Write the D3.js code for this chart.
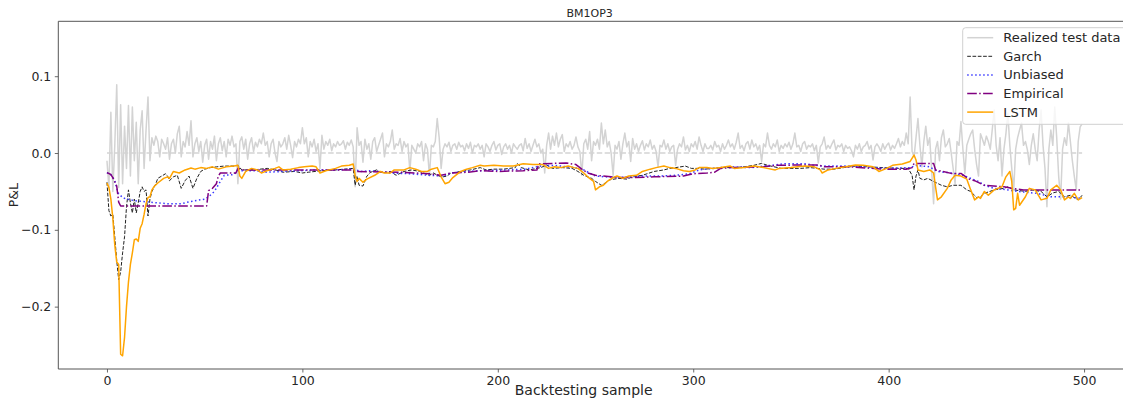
<!DOCTYPE html>
<html>
<head>
<meta charset="utf-8">
<script src="https://cdn.jsdelivr.net/npm/d3@7"></script>
<style>
body{margin:0;background:#fff;}
text{font-family:"DejaVu Sans",sans-serif;fill:#262626;}
</style>
</head>
<body>
<svg id="chart"></svg>
<script>
//backtest p&l, 500 samples
var title="BM1OP3";
var xTicks=[0,100,200,300,400,500];
var yTicks=[0.1,0.0,-0.1,-0.2];
var seriesNames=["Realized test data","Garch","Unbiased","Empirical","LSTM"];

//realized test data, one value per sample
var realized=[
-0.010,-0.045,0.053,-0.050,0.010,0.089,-0.045,0.063,-0.040,0.035,
-0.020,0.062,-0.030,0.060,-0.010,0.040,-0.040,0.030,0.055,-0.020,
0.030,0.073,-0.010,0.020,0.010,0.022,0.015,-0.005,0.018,0.012,
0.005,0.020,-0.008,0.012,0.018,0.000,0.025,0.035,-0.005,0.015,
0.008,0.028,0.010,0.042,-0.005,0.012,0.020,0.002,0.015,-0.012,
0.010,0.018,-0.008,0.015,0.005,0.022,-0.010,0.012,0.020,0.003,
0.015,-0.005,0.018,0.010,0.022,0.008,0.012,-0.040,0.015,0.021,
0.005,0.018,-0.008,0.012,0.020,0.002,0.014,0.008,0.018,0.012,
0.026,0.010,0.015,-0.005,0.012,0.018,0.000,-0.011,0.015,0.008,
0.012,0.020,0.005,0.023,0.010,-0.006,0.015,0.008,0.018,0.012,
0.033,0.012,0.020,-0.005,0.015,0.008,0.018,0.002,0.012,-0.020,
0.023,0.005,0.015,0.010,0.018,0.003,0.012,0.008,0.015,0.010,
0.012,0.016,0.005,0.014,0.010,0.017,0.008,-0.044,0.033,0.010,
0.015,-0.012,0.018,0.005,0.012,-0.008,0.015,0.020,0.002,0.010,
0.018,0.026,-0.005,0.012,0.008,0.015,0.030,0.005,0.012,0.010,
0.019,0.002,0.015,0.008,0.012,-0.024,0.010,0.005,0.000,0.012,
0.008,0.015,-0.010,0.012,0.005,-0.030,0.010,0.008,0.015,0.045,
0.020,-0.020,0.005,0.012,0.008,0.014,0.002,0.010,0.012,0.005,
0.014,0.008,0.010,0.003,0.012,0.006,0.014,0.000,0.010,0.008,
0.012,0.005,0.010,-0.005,0.012,0.008,0.002,0.010,0.015,0.004,
0.010,0.012,-0.002,0.008,0.012,0.005,0.010,0.000,0.012,0.008,
0.005,0.010,0.012,0.003,0.019,0.006,0.012,0.002,0.010,0.018,
0.008,0.012,0.000,0.005,-0.026,0.010,0.026,0.005,0.022,0.010,
0.026,0.008,0.018,0.024,0.002,0.012,0.008,0.015,0.005,0.010,
0.021,0.008,0.002,-0.029,0.012,0.018,0.005,0.028,-0.010,0.015,
0.010,0.018,0.005,0.039,0.012,0.030,0.008,0.015,0.000,-0.029,
0.010,0.005,0.015,-0.008,0.012,0.026,0.008,0.015,-0.011,0.019,
0.005,0.012,0.002,0.010,0.016,0.004,0.012,0.008,0.017,0.005,
0.010,0.002,-0.018,0.010,0.008,0.017,0.005,0.012,0.002,0.008,
0.010,-0.016,0.005,0.012,0.008,0.021,0.004,0.010,0.002,0.012,
0.008,0.015,0.005,0.021,0.010,0.002,0.012,0.006,0.006,0.010,
0.004,0.015,0.008,0.010,0.002,0.012,0.005,0.010,0.017,0.008,
0.012,0.005,0.014,0.026,0.006,0.010,0.003,0.012,0.015,0.005,
0.017,0.008,0.012,0.004,0.010,-0.011,0.012,0.008,0.026,0.010,
0.005,0.012,0.008,0.017,0.002,0.010,0.006,0.012,0.008,0.014,
0.005,0.012,0.026,0.008,0.010,0.002,0.012,0.015,0.005,0.010,
0.008,0.012,0.003,0.010,-0.013,0.008,0.012,0.021,0.005,0.010,
0.006,0.012,0.017,0.004,0.010,0.008,0.012,0.002,0.010,0.006,
0.008,0.003,-0.005,0.010,0.005,0.012,0.002,0.008,0.010,0.015,
0.005,0.010,-0.009,0.008,0.012,0.008,0.002,0.012,0.005,0.010,
0.013,0.004,0.010,0.006,0.012,0.019,0.008,0.015,0.010,0.026,
0.012,0.073,0.002,-0.005,0.020,0.045,0.010,-0.018,0.015,0.035,
0.010,0.020,-0.022,-0.066,0.005,0.015,-0.010,0.020,0.030,0.008,
0.012,0.019,0.000,-0.020,-0.040,0.015,0.010,0.041,0.005,-0.027,
0.010,0.018,0.025,0.030,0.005,-0.015,-0.030,0.025,0.018,0.010,
0.022,0.015,0.005,0.030,0.056,0.010,-0.010,0.020,-0.030,0.005,
0.025,0.052,0.010,-0.020,-0.048,0.005,0.020,0.030,0.039,0.010,
0.015,0.004,-0.015,0.010,0.025,0.005,-0.010,0.030,0.056,0.010,
-0.020,-0.070,0.005,0.030,0.010,0.060,0.020,-0.030,-0.060,0.005,
0.020,0.010,0.039,0.015,-0.010,-0.030,-0.048,0.015,0.034,0.038
];

//forecasts: [sample, p&l] at the corners
var garch=[[0,-0.038],[1,-0.075],[2,-0.082],[3,-0.080],[4,-0.109],[5,-0.140],[6,-0.165],[7,-0.155],[8,-0.130],[9,-0.109],
[10,-0.070],[11,-0.048],[12,-0.065],[13,-0.078],[14,-0.060],[15,-0.078],[16,-0.065],[17,-0.050],[18,-0.044],[19,-0.050],
[20,-0.048],[21,-0.082],[22,-0.060],[23,-0.050],[25,-0.040],[26,-0.033],[28,-0.030],[30,-0.027],[31,-0.030],[32,-0.036],
[34,-0.031],[36,-0.029],[38,-0.046],[40,-0.036],[42,-0.030],[44,-0.046],[46,-0.033],[48,-0.024],[50,-0.021],[53,-0.019],
[56,-0.018],[60,-0.017],[65,-0.017],[67,-0.016],[69,-0.022],[75,-0.022],[82,-0.020],[88,-0.023],[90,-0.025],[96,-0.024],
[100,-0.026],[103,-0.025],[110,-0.023],[117,-0.022],[126,-0.020],[127,-0.042],[128,-0.030],[129,-0.042],[131,-0.043],[133,-0.030],
[135,-0.025],[138,-0.022],[141,-0.026],[145,-0.024],[148,-0.029],[152,-0.024],[156,-0.022],[160,-0.024],[165,-0.029],[167,-0.026],
[170,-0.030],[172,-0.031],[174,-0.030],[176,-0.026],[181,-0.024],[186,-0.022],[191,-0.019],[194,-0.022],[198,-0.021],[203,-0.021],
[209,-0.019],[210,-0.0135],[212,-0.019],[216,-0.022],[222,-0.019],[225,-0.0156],[228,-0.020],[233,-0.019],[238,-0.020],[241,-0.024],
[244,-0.029],[248,-0.033],[250,-0.037],[253,-0.042],[255,-0.039],[257,-0.035],[262,-0.033],[266,-0.034],[269,-0.031],[274,-0.029],
[280,-0.024],[285,-0.022],[288,-0.020],[291,-0.019],[296,-0.017],[299,-0.020],[302,-0.020],[306,-0.021],[310,-0.020],[315,-0.019],
[320,-0.019],[326,-0.018],[331,-0.016],[335,-0.0135],[338,-0.016],[345,-0.020],[355,-0.020],[360,-0.019],[367,-0.021],[372,-0.021],
[377,-0.019],[383,-0.017],[390,-0.018],[397,-0.019],[405,-0.020],[410,-0.020],[412,-0.029],[413,-0.048],[414,-0.030],[415,-0.022],
[416,-0.033],[418,-0.035],[420,-0.033],[423,-0.037],[427,-0.042],[430,-0.044],[433,-0.042],[437,-0.042],[440,-0.048],[442,-0.050],
[445,-0.058],[447,-0.057],[449,-0.0525],[454,-0.048],[459,-0.046],[461,-0.044],[464,-0.048],[470,-0.050],[473,-0.048],[478,-0.050],
[481,-0.057],[484,-0.052],[487,-0.050],[490,-0.057],[493,-0.055],[497,-0.061],[499,-0.055]];

var unbiased=[[0,-0.0256],[2,-0.028],[4,-0.036],[5,-0.046],[6,-0.053],[8,-0.058],[10,-0.060],[14,-0.062],[22,-0.064],[31,-0.066],
[38,-0.066],[43,-0.063],[50,-0.060],[52,-0.057],[55,-0.050],[58,-0.037],[60,-0.029],[65,-0.028],[67,-0.023],[75,-0.023],
[82,-0.025],[90,-0.024],[99,-0.023],[107,-0.022],[117,-0.022],[126,-0.021],[130,-0.024],[135,-0.023],[145,-0.026],[155,-0.027],
[165,-0.029],[172,-0.030],[176,-0.026],[184,-0.024],[191,-0.023],[205,-0.022],[214,-0.021],[222,-0.017],[229,-0.016],[239,-0.019],
[244,-0.022],[247,-0.026],[250,-0.030],[255,-0.031],[262,-0.032],[273,-0.030],[283,-0.030],[291,-0.029],[298,-0.027],[303,-0.022],
[310,-0.020],[318,-0.018],[330,-0.019],[336,-0.017],[347,-0.014],[357,-0.014],[362,-0.016],[367,-0.017],[383,-0.017],[397,-0.020],
[411,-0.019],[414,-0.016],[421,-0.018],[425,-0.024],[432,-0.026],[438,-0.029],[443,-0.034],[446,-0.037],[449,-0.042],[454,-0.046],
[461,-0.048],[466,-0.050],[476,-0.0525],[483,-0.057],[490,-0.057],[499,-0.059]];

var empirical=[[0,-0.0256],[2,-0.028],[3,-0.032],[5,-0.043],[6,-0.064],[7,-0.069],[51,-0.069],[52,-0.049],[54,-0.046],[56,-0.040],
[57,-0.030],[58,-0.026],[66,-0.026],[67,-0.020],[70,-0.022],[126,-0.022],[127,-0.024],[150,-0.025],[158,-0.026],[165,-0.027],
[171,-0.029],[176,-0.026],[185,-0.025],[191,-0.023],[200,-0.024],[213,-0.023],[220,-0.022],[221,-0.014],[235,-0.013],[240,-0.015],
[243,-0.021],[246,-0.026],[250,-0.029],[258,-0.031],[260,-0.032],[270,-0.032],[280,-0.031],[295,-0.030],[300,-0.027],[307,-0.026],
[311,-0.025],[314,-0.020],[320,-0.019],[336,-0.018],[343,-0.016],[354,-0.0156],[364,-0.0156],[367,-0.018],[380,-0.018],[397,-0.021],
[409,-0.021],[412,-0.019],[413,-0.0135],[423,-0.0135],[424,-0.022],[432,-0.0265],[437,-0.0265],[439,-0.030],[440,-0.033],[444,-0.036],
[449,-0.042],[459,-0.044],[463,-0.046],[469,-0.048],[499,-0.048]];

var lstm=[[0,-0.039],[1,-0.045],[2,-0.060],[3,-0.085],[4,-0.120],[5,-0.142],[6,-0.145],[7,-0.262],[8,-0.264],[9,-0.240],
[10,-0.200],[11,-0.168],[12,-0.145],[13,-0.130],[14,-0.113],[15,-0.112],[16,-0.115],[17,-0.098],[18,-0.092],[19,-0.080],
[20,-0.066],[21,-0.058],[22,-0.057],[23,-0.048],[24,-0.044],[26,-0.039],[29,-0.033],[31,-0.031],[32,-0.033],[34,-0.024],
[37,-0.026],[40,-0.022],[43,-0.0195],[45,-0.021],[48,-0.019],[51,-0.020],[54,-0.018],[57,-0.021],[61,-0.018],[65,-0.017],
[67,-0.016],[68,-0.030],[69,-0.033],[71,-0.024],[74,-0.020],[77,-0.022],[79,-0.026],[83,-0.022],[86,-0.020],[88,-0.018],
[90,-0.022],[94,-0.021],[98,-0.019],[101,-0.018],[105,-0.017],[107,-0.018],[109,-0.026],[112,-0.023],[117,-0.020],[120,-0.017],
[124,-0.016],[126,-0.0143],[127,-0.029],[128,-0.037],[129,-0.033],[131,-0.038],[133,-0.034],[137,-0.029],[140,-0.024],[142,-0.026],
[145,-0.026],[147,-0.022],[152,-0.022],[155,-0.019],[158,-0.021],[161,-0.024],[164,-0.024],[166,-0.021],[169,-0.019],[171,-0.031],
[173,-0.040],[175,-0.038],[177,-0.032],[181,-0.024],[184,-0.021],[187,-0.019],[191,-0.016],[193,-0.017],[198,-0.016],[203,-0.017],
[208,-0.017],[213,-0.014],[218,-0.015],[223,-0.015],[226,-0.020],[229,-0.018],[232,-0.019],[236,-0.017],[239,-0.019],[241,-0.020],
[244,-0.026],[246,-0.031],[249,-0.037],[250,-0.048],[252,-0.044],[254,-0.042],[256,-0.037],[259,-0.032],[261,-0.030],[264,-0.033],
[267,-0.030],[271,-0.029],[274,-0.024],[278,-0.021],[281,-0.019],[285,-0.017],[288,-0.019],[291,-0.020],[295,-0.023],[298,-0.024],
[301,-0.022],[303,-0.019],[307,-0.019],[310,-0.020],[314,-0.019],[319,-0.017],[321,-0.020],[326,-0.019],[331,-0.017],[336,-0.019],
[342,-0.022],[344,-0.020],[350,-0.019],[357,-0.017],[362,-0.018],[365,-0.022],[366,-0.026],[369,-0.022],[373,-0.020],[378,-0.018],
[383,-0.0156],[387,-0.016],[392,-0.018],[395,-0.024],[399,-0.020],[402,-0.016],[407,-0.0143],[411,-0.011],[413,-0.0026],[414,-0.009],
[415,-0.022],[418,-0.024],[421,-0.022],[423,-0.026],[424,-0.044],[425,-0.061],[427,-0.057],[430,-0.046],[432,-0.035],[434,-0.029],
[437,-0.030],[440,-0.034],[442,-0.048],[444,-0.061],[446,-0.057],[447,-0.059],[449,-0.050],[451,-0.055],[454,-0.048],[458,-0.044],
[460,-0.031],[462,-0.024],[463,-0.037],[464,-0.074],[465,-0.072],[466,-0.0525],[467,-0.068],[470,-0.057],[472,-0.046],[475,-0.048],
[478,-0.061],[481,-0.059],[483,-0.048],[486,-0.042],[488,-0.048],[490,-0.061],[492,-0.057],[493,-0.059],[495,-0.0525],[497,-0.061],
[499,-0.058]];

///some constants
var width=1123, height=400;
var plot={left:58.3, right:1121, top:21.3, bottom:369};

var svg=d3.select("#chart")
	.attr("width",width)
	.attr("height",height);

var x=d3.scaleLinear()
	.domain([-24.9,518.9])
	.range([plot.left,plot.right]);
var y=d3.scaleLinear()
	.domain([-0.2812,0.1715])
	.range([plot.bottom,plot.top]);

svg.append("clipPath").attr("id","clip")
	.append("rect")
	.attr("x",plot.left).attr("y",plot.top)
	.attr("width",plot.right-plot.left).attr("height",plot.bottom-plot.top);

var oPlot=svg.append("g").attr("clip-path","url(#clip)");

var line=d3.line()
	.x(function(d){return x(d[0]);})
	.y(function(d){return y(d[1]);});

//realized data is one value per sample, turn it into pairs
var realizedPts=realized.map(function(v,i){return [i,v];});

var styles=[
	{data:realizedPts, color:"#d3d3d3", w:1.5, dash:null},
	{data:garch, color:"#222", w:1, dash:"3.7,1.6"},
	{data:unbiased, color:"#3a3aff", w:1.5, dash:"1.5,2.5"},
	{data:empirical, color:"#800080", w:1.5, dash:"9.6,2.4,1.5,2.4"},
	{data:lstm, color:"#ffa500", w:1.5, dash:null}
];

//realized first
oPlot.append("path")
	.attr("d",line(styles[0].data))
	.attr("fill","none")
	.attr("stroke",styles[0].color)
	.attr("stroke-width",styles[0].w)
	.attr("stroke-linejoin","round");

//zero reference line
oPlot.append("line")
	.attr("x1",x(0)).attr("x2",x(realized.length-1))
	.attr("y1",y(0)).attr("y2",y(0))
	.attr("stroke","#d3d3d3")
	.attr("stroke-width",1.5)
	.attr("stroke-dasharray","5.5,2.4");

for(var i=1;i<styles.length;i++){
	var s=styles[i];
	oPlot.append("path")
		.attr("d",line(s.data))
		.attr("fill","none")
		.attr("stroke",s.color)
		.attr("stroke-width",s.w)
		.attr("stroke-dasharray",s.dash)
		.attr("stroke-linejoin","round");
}

//axes
var xAxis=d3.axisBottom(x).tickValues(xTicks).tickSize(3.5).tickPadding(3.5).tickFormat(d3.format("d"));
var yAxis=d3.axisLeft(y).tickValues(yTicks).tickSize(3.5).tickPadding(3.5).tickFormat(d3.format(".1f"));

var gx=svg.append("g")
	.attr("transform","translate(0,"+plot.bottom+")")
	.call(xAxis);
var gy=svg.append("g")
	.attr("transform","translate("+plot.left+",0)")
	.call(yAxis);
[gx,gy].forEach(function(g){
	g.select(".domain").remove();
	g.selectAll(".tick line").attr("stroke","#444").attr("stroke-width",0.8);
	g.selectAll(".tick text").attr("font-size","12.5px").attr("fill","#262626").attr("font-family","DejaVu Sans");
});

//spines: left, top, bottom (right one is off the picture)
var spine=svg.append("g").attr("stroke","#555").attr("stroke-width",1).attr("fill","none");
spine.append("line").attr("x1",plot.left).attr("x2",plot.left).attr("y1",plot.top).attr("y2",plot.bottom);
spine.append("line").attr("x1",plot.left).attr("x2",width).attr("y1",plot.top).attr("y2",plot.top);
spine.append("line").attr("x1",plot.left).attr("x2",width).attr("y1",plot.bottom).attr("y2",plot.bottom);

//titles
var cx=(plot.left+plot.right)/2;
svg.append("text").attr("x",cx).attr("y",16.5)
	.attr("text-anchor","middle").attr("font-size","11px").text(title);
svg.append("text").attr("x",cx-6).attr("y",395)
	.attr("text-anchor","middle").attr("font-size","14px").text("Backtesting sample");
svg.append("text")
	.attr("transform","translate(17.5,"+((plot.top+plot.bottom)/2)+") rotate(-90)")
	.attr("text-anchor","middle").attr("font-size","12.5px").text("P&L");

//legend
var leg=svg.append("g").attr("transform","translate(962.7,27.7)");
leg.append("rect")
	.attr("width",180).attr("height",96.6)
	.attr("rx",3)
	.attr("fill","#fff").attr("fill-opacity",0.8)
	.attr("stroke","#d0d0d0").attr("stroke-width",1);
seriesNames.forEach(function(name,k){
	var s=styles[k], ry=10+k*18.6;
	leg.append("line")
		.attr("x1",4.5).attr("x2",30.5).attr("y1",ry).attr("y2",ry)
		.attr("stroke",s.color).attr("stroke-width",s.w)
		.attr("stroke-dasharray",s.dash);
	leg.append("text")
		.attr("x",40.5).attr("y",ry+4.6)
		.attr("font-size","13px").text(name);
});
</script>
</body>
</html>
